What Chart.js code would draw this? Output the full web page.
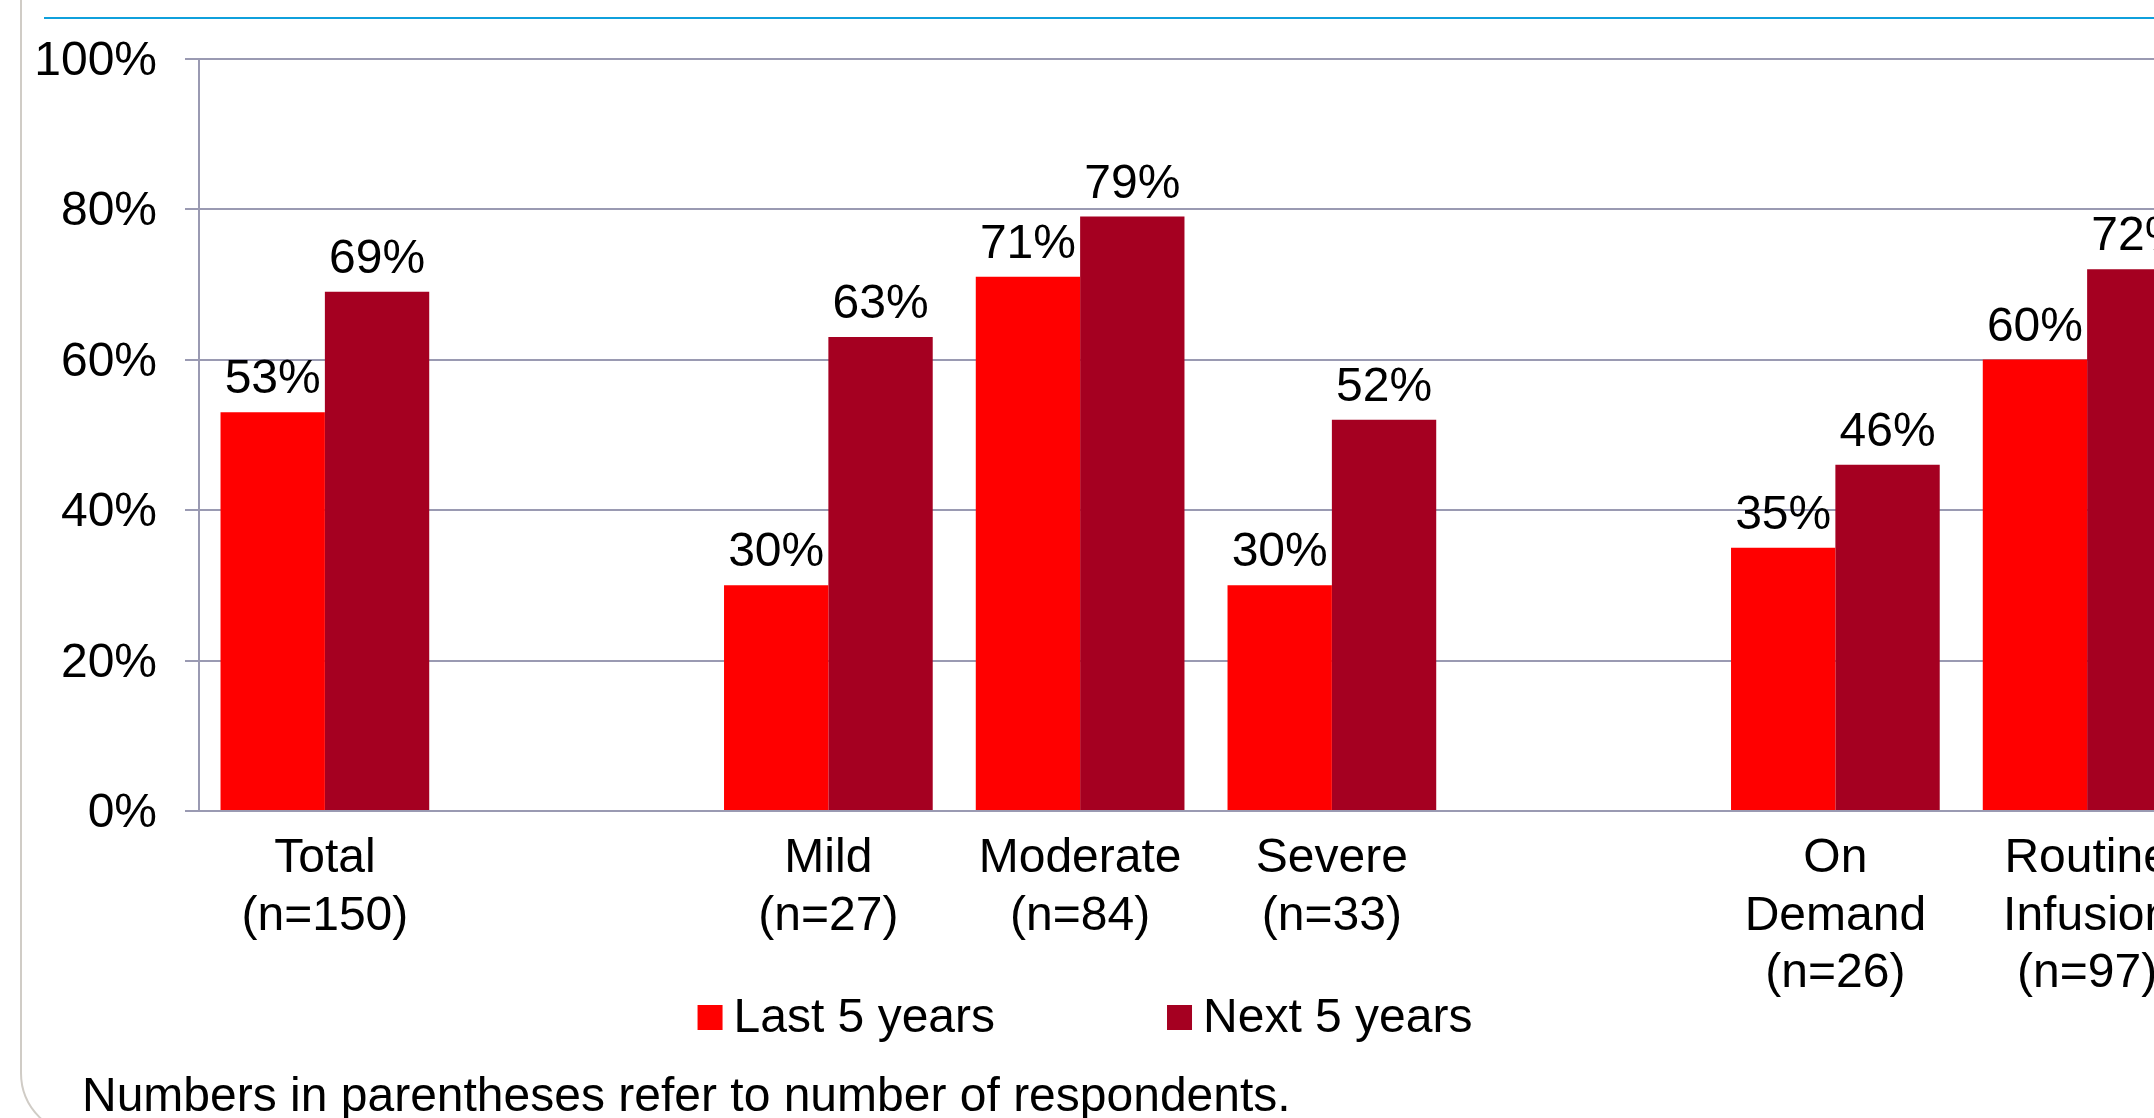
<!DOCTYPE html>
<html>
<head>
<meta charset="utf-8">
<script src="https://cdn.jsdelivr.net/npm/chart.js@4/dist/chart.umd.min.js"></script>
<style>
    html, body { margin: 0; padding: 0; background: #ffffff; overflow: hidden; }
    body { width: 2154px; height: 1118px; position: relative; font-family: "Liberation Sans", Arial, sans-serif; }
    .frame { position: absolute; left: 20px; top: -100px; width: 2400px; height: 1236px; box-sizing: border-box; border: 2px solid #d0ccc6; border-radius: 63px; }
    .topline { position: absolute; left: 44px; top: 17px; width: 2200px; height: 2px; background: #0fa0dc; }
    .chart-box { position: absolute; left: 0; top: 0; width: 2213px; height: 1118px; }
    .note { position: absolute; left: 82px; top: 1071px; font-size: 48px; line-height: 48px; color: #000; white-space: nowrap; }
</style>
</head>
<body>
<div class="frame"></div>
<div class="topline"></div>
<div class="chart-box"><canvas id="usageChart"></canvas></div>
<div class="note">Numbers in parentheses refer to number of respondents.</div>

<script>
// categories (blank entries are the spacer columns between groups)
const categoryNames = [['Total'], [], ['Mild'], ['Moderate'], ['Severe'], [], ['On', 'Demand'], ['Routine', 'Infusion']];
const respondents = [150, null, 27, 84, 33, null, 26, 97];
const lastFiveYears = [53, null, 30, 71, 30, null, 35, 60];
const nextFiveYears = [69, null, 63, 79, 52, null, 46, 72];
const yTicks = [0, 20, 40, 60, 80, 100];

const fontFamily = '"Liberation Sans", Arial, sans-serif';
const fontSize = 48;
const gridColor = '#9a9ab2';

const labels = categoryNames.map(function (name, i) {
    if (respondents[i] === null) return '';
    return name.concat(['(n=' + respondents[i] + ')']);
});

// value labels above the bars
const valueLabels = {
    id: 'valueLabels',
    afterDatasetsDraw: function (chart) {
        const ctx = chart.ctx;
        ctx.save();
        ctx.font = fontSize + 'px ' + fontFamily;
        ctx.fillStyle = '#000';
        ctx.textAlign = 'center';
        ctx.textBaseline = 'alphabetic';
        chart.data.datasets.forEach(function (ds, di) {
            chart.getDatasetMeta(di).data.forEach(function (bar, i) {
                if (ds.data[i] === null) return;
                ctx.fillText(ds.data[i] + '%', bar.x, bar.y - 19);
            });
        });
        ctx.restore();
    }
};

// legend under the axis labels
const bottomLegend = {
    id: 'bottomLegend',
    afterDraw: function (chart) {
        const ctx = chart.ctx;
        const box = 25, gap = 11, spacing = 172, centerX = 1085, baseline = 1032;
        ctx.save();
        ctx.font = fontSize + 'px ' + fontFamily;
        ctx.textBaseline = 'alphabetic';
        ctx.textAlign = 'left';
        const items = chart.data.datasets.map(function (ds) {
            return { text: ds.label, color: ds.backgroundColor, w: ctx.measureText(ds.label).width };
        });
        let total = 0;
        items.forEach(function (it, i) { total += box + gap + it.w + (i > 0 ? spacing : 0); });
        let x = centerX - total / 2;
        items.forEach(function (it) {
            ctx.fillStyle = it.color;
            ctx.fillRect(x, baseline - 27, box, box);
            ctx.fillStyle = '#000';
            ctx.fillText(it.text, x + box + gap, baseline);
            x += box + gap + it.w + spacing;
        });
        ctx.restore();
    }
};

document.addEventListener("DOMContentLoaded", function () {
    const ctx = document.getElementById('usageChart').getContext('2d');
    const usageChart = new Chart(ctx, {
        type: 'bar',
        data: {
            labels: labels,
            datasets: [
                {
                    label: 'Last 5 years',
                    data: lastFiveYears,
                    backgroundColor: '#ff0000'
                },
                {
                    label: 'Next 5 years',
                    data: nextFiveYears,
                    backgroundColor: '#a50021'
                }
            ]
        },
        options: {
            responsive: true,
            maintainAspectRatio: false,
            animation: false,
            datasets: {
                bar: { barPercentage: 1, categoryPercentage: 0.829 }
            },
            layout: {
                padding: { top: 58.5, left: 0, right: 0, bottom: 0 }
            },
            scales: {
                x: {
                    offset: true,
                    grid: { display: false },
                    border: { color: gridColor, width: 2 },
                    ticks: {
                        color: '#000',
                        font: { family: fontFamily, size: fontSize, lineHeight: 1.2 },
                        padding: 11,
                        maxRotation: 0,
                        autoSkip: false
                    },
                    afterFit: function (scale) { scale.height = 307; }
                },
                y: {
                    min: 0,
                    max: 100,
                    afterBuildTicks: function (scale) {
                        scale.ticks = yTicks.map(function (v) { return { value: v }; });
                    },
                    grid: { color: gridColor, lineWidth: 2, tickLength: 14 },
                    border: { color: gridColor, width: 2 },
                    ticks: {
                        color: '#000',
                        font: { family: fontFamily, size: fontSize },
                        padding: 28,
                        labelOffset: 3,
                        callback: function (value) { return value + '%'; }
                    },
                    afterFit: function (scale) { scale.width = 199; }
                }
            },
            plugins: {
                legend: { display: false },
                tooltip: { enabled: false }
            }
        },
        plugins: [valueLabels, bottomLegend]
    });
});
</script>
</body>
</html>
